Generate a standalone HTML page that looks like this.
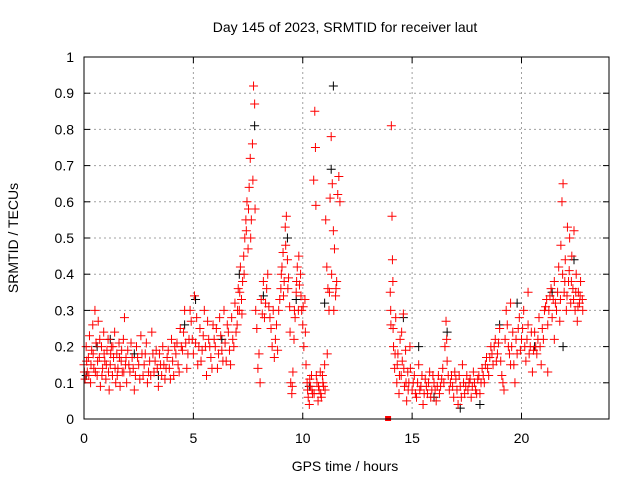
<!DOCTYPE html>
<html><head><meta charset="utf-8"><style>
body{margin:0;background:#fff;width:640px;height:480px;overflow:hidden}
text{font-family:"Liberation Sans",sans-serif;font-size:14px;fill:#000}
</style></head><body>
<svg id="chart" width="640" height="480" viewBox="0 0 640 480"></svg>
<script>
const xTicks=[0,5,10,15,20];
const yTicks=[0,0.1,0.2,0.3,0.4,0.5,0.6,0.7,0.8,0.9,1];
const yTickLabels=["0","0.1","0.2","0.3","0.4","0.5","0.6","0.7","0.8","0.9","1"];
const blackPts=[[0.1,0.12],[0.6,0.2],[1.2,0.22],[2.3,0.18],[3.4,0.12],[4.6,0.26],[5.1,0.33],[6.3,0.22],[7.1,0.4],[7.8,0.81],[8.2,0.34],[9.3,0.5],[9.7,0.33],[10.3,0.09],[11.0,0.32],[11.4,0.92],[11.3,0.69],[14.6,0.28],[15.3,0.2],[16.0,0.06],[16.6,0.24],[17.2,0.03],[17.6,0.1],[18.1,0.04],[19.0,0.26],[19.8,0.32],[20.6,0.2],[21.4,0.35],[21.9,0.2],[22.4,0.44]];
const redPts=[
[0.0,0.15],[0.05,0.11],[0.1,0.2],[0.15,0.13],[0.2,0.17],[0.25,0.23],[0.3,0.1],[0.35,0.19],[0.4,0.26],[0.45,0.14],[0.5,0.3],[0.55,0.21],[0.6,0.12],[0.65,0.27],[0.7,0.17],[0.75,0.09],[0.8,0.2],[0.85,0.14],[0.9,0.24],[0.95,0.16],[1.0,0.11],[1.05,0.19],[1.1,0.22],[1.15,0.08],[1.2,0.15],[1.25,0.2],[1.3,0.12],[1.35,0.17],[1.4,0.24],[1.45,0.1],[1.5,0.18],[1.55,0.14],[1.6,0.21],[1.65,0.09],[1.7,0.16],[1.75,0.13],[1.8,0.22],[1.85,0.28],[1.9,0.15],[1.95,0.1],[2.0,0.19],[2.1,0.13],[2.2,0.17],[2.3,0.08],[2.4,0.2],[2.5,0.15],[2.6,0.23],[2.7,0.12],[2.8,0.18],[2.9,0.1],[3.0,0.16],[3.1,0.24],[3.2,0.13],[3.3,0.19],[3.4,0.09],[3.5,0.15],[3.6,0.2],[3.7,0.11],[3.8,0.17],[3.9,0.14],[4.0,0.22],[4.1,0.12],[4.2,0.18],[4.3,0.15],[4.4,0.25],[4.5,0.19],[4.6,0.3],[4.7,0.14],[4.8,0.22],[4.9,0.27],[5.0,0.18],[5.05,0.34],[5.1,0.21],[5.2,0.15],[5.3,0.25],[5.4,0.19],[5.5,0.3],[5.6,0.12],[5.7,0.22],[5.8,0.17],[5.9,0.26],[6.0,0.2],[6.1,0.14],[6.2,0.28],[6.3,0.19],[6.4,0.3],[6.5,0.16],[6.6,0.24],[6.7,0.15],[6.8,0.22],[6.9,0.32],[7.0,0.26],[7.05,0.36],[7.1,0.3],[7.15,0.42],[7.2,0.33],[7.25,0.38],[7.3,0.45],[7.35,0.5],[7.4,0.55],[7.45,0.6],[7.5,0.47],[7.55,0.64],[7.6,0.72],[7.65,0.55],[7.7,0.76],[7.72,0.66],[7.75,0.92],[7.8,0.87],[7.82,0.58],[7.85,0.3],[7.9,0.25],[7.95,0.14],[8.0,0.18],[8.05,0.1],[8.1,0.33],[8.15,0.29],[8.2,0.38],[8.3,0.32],[8.4,0.4],[8.5,0.28],[8.6,0.2],[8.7,0.17],[8.8,0.26],[8.9,0.3],[9.0,0.36],[9.05,0.42],[9.1,0.46],[9.15,0.38],[9.2,0.53],[9.25,0.56],[9.3,0.44],[9.35,0.39],[9.4,0.31],[9.45,0.1],[9.5,0.07],[9.55,0.13],[9.6,0.22],[9.65,0.28],[9.7,0.35],[9.75,0.42],[9.8,0.3],[9.85,0.37],[9.9,0.4],[9.95,0.3],[10.0,0.26],[10.05,0.2],[10.1,0.33],[10.15,0.15],[10.2,0.1],[10.25,0.06],[10.3,0.04],[10.35,0.09],[10.4,0.12],[10.45,0.07],[10.5,0.66],[10.55,0.85],[10.58,0.75],[10.6,0.59],[10.65,0.1],[10.7,0.05],[10.75,0.08],[10.8,0.13],[10.85,0.06],[10.9,0.12],[10.95,0.09],[11.0,0.15],[11.05,0.55],[11.1,0.42],[11.15,0.36],[11.2,0.3],[11.25,0.61],[11.3,0.78],[11.35,0.65],[11.4,0.52],[11.45,0.47],[11.5,0.34],[11.55,0.38],[11.6,0.62],[11.65,0.67],[11.7,0.6],
[14.0,0.35],[14.03,0.26],[14.05,0.81],[14.08,0.56],[14.1,0.44],[14.12,0.38],[14.15,0.2],[14.2,0.14],[14.25,0.28],[14.3,0.1],[14.35,0.18],[14.4,0.07],[14.45,0.22],[14.5,0.12],[14.55,0.16],[14.6,0.29],[14.65,0.09],[14.7,0.19],[14.75,0.05],[14.8,0.13],[14.85,0.1],[14.9,0.2],[15.0,0.08],[15.1,0.12],[15.2,0.06],[15.3,0.15],[15.4,0.09],[15.5,0.04],[15.6,0.11],[15.7,0.07],[15.8,0.13],[15.9,0.08],[16.0,0.1],[16.1,0.05],[16.2,0.12],[16.3,0.09],[16.4,0.14],[16.5,0.2],[16.55,0.27],[16.6,0.16],[16.7,0.08],[16.8,0.12],[16.9,0.06],[17.0,0.11],[17.1,0.04],[17.2,0.09],[17.3,0.15],[17.4,0.07],[17.5,0.12],[17.6,0.1],[17.7,0.06],[17.8,0.13],[17.9,0.08],[18.0,0.11],[18.1,0.07],[18.2,0.14],[18.3,0.1],[18.4,0.17],[18.5,0.12],[18.6,0.2],[18.7,0.15],[18.8,0.22],[18.9,0.18],[19.0,0.25],[19.1,0.12],[19.2,0.08],[19.3,0.3],[19.4,0.2],[19.5,0.15],[19.6,0.24],[19.7,0.1],[19.8,0.18],[19.9,0.28],[20.0,0.22],[20.1,0.3],[20.2,0.16],[20.3,0.26],[20.4,0.2],[20.5,0.13],[20.6,0.24],[20.7,0.18],[20.8,0.28],[20.9,0.15],[21.0,0.22],[21.1,0.31],[21.2,0.26],[21.3,0.34],[21.4,0.28],[21.5,0.38],[21.6,0.3],[21.7,0.42],[21.75,0.27],[21.8,0.48],[21.85,0.6],[21.9,0.65],[21.95,0.35],[22.0,0.44],[22.05,0.3],[22.1,0.53],[22.15,0.38],[22.2,0.5],[22.25,0.32],[22.3,0.45],[22.35,0.36],[22.4,0.52],[22.45,0.3],[22.5,0.4],[22.55,0.27],[22.6,0.35],[22.65,0.32],[22.7,0.38],[22.8,0.3],[21.2,0.13],[21.5,0.22],[20.3,0.35],[19.5,0.32]
];
const redPts2=[
[0.02,0.13],[0.12,0.16],[0.22,0.12],[0.32,0.15],[0.42,0.18],[0.52,0.13],[0.62,0.16],[0.72,0.22],[0.82,0.12],[0.92,0.18],[1.02,0.15],[1.12,0.13],[1.22,0.18],[1.32,0.2],[1.42,0.14],[1.52,0.12],[1.62,0.17],[1.72,0.19],[1.82,0.13],[1.92,0.17],[2.05,0.15],[2.15,0.21],[2.25,0.14],[2.35,0.12],[2.45,0.17],[2.55,0.11],[2.65,0.18],[2.75,0.15],[2.85,0.21],[2.95,0.13],[3.05,0.12],[3.15,0.18],[3.25,0.16],[3.35,0.14],[3.45,0.18],[3.55,0.12],[3.65,0.15],[3.75,0.14],[3.85,0.19],[3.95,0.11],[4.05,0.16],[4.15,0.2],[4.25,0.21],[4.35,0.13],[4.45,0.2],[4.55,0.24],[4.65,0.21],[4.75,0.18],[4.85,0.3],[4.95,0.22],[5.15,0.28],[5.25,0.2],[5.35,0.16],[5.45,0.23],[5.55,0.2],[5.65,0.27],[5.75,0.2],[5.85,0.14],[5.95,0.22],[6.05,0.25],[6.15,0.18],[6.25,0.23],[6.35,0.16],[6.45,0.21],[6.55,0.26],[6.65,0.19],[6.75,0.28],[6.85,0.2],[6.95,0.24],[7.02,0.3],[7.12,0.35],[7.22,0.29],[7.32,0.4],[7.42,0.52],[7.52,0.58],[7.62,0.5],[8.25,0.28],[8.35,0.36],[8.45,0.31],[8.55,0.25],[8.65,0.3],[8.75,0.22],[8.85,0.19],[8.95,0.33],[9.02,0.4],[9.12,0.34],[9.22,0.48],[9.32,0.36],[9.42,0.24],[9.52,0.09],[9.62,0.3],[9.72,0.38],[9.82,0.45],[9.92,0.34],[10.02,0.31],[10.12,0.24],[10.22,0.08],[10.32,0.11],[10.42,0.08],[10.52,0.07],[10.62,0.12],[10.72,0.09],[10.82,0.07],[10.92,0.1],[11.02,0.08],[11.12,0.18],[11.22,0.35],[11.32,0.4],[11.42,0.3],[11.52,0.36],
[14.02,0.3],[14.13,0.25],[14.22,0.18],[14.32,0.15],[14.42,0.12],[14.52,0.24],[14.62,0.14],[14.72,0.1],[14.82,0.08],[14.92,0.14],[15.05,0.1],[15.15,0.07],[15.25,0.1],[15.35,0.08],[15.45,0.12],[15.55,0.07],[15.65,0.09],[15.75,0.1],[15.85,0.06],[15.95,0.12],[16.05,0.08],[16.15,0.09],[16.25,0.07],[16.35,0.11],[16.45,0.1],[16.58,0.22],[16.65,0.12],[16.75,0.1],[16.85,0.09],[16.95,0.13],[17.05,0.08],[17.15,0.12],[17.25,0.06],[17.35,0.1],[17.45,0.09],[17.55,0.08],[17.65,0.11],[17.75,0.09],[17.85,0.1],[17.95,0.07],[18.05,0.12],[18.15,0.1],[18.25,0.12],[18.35,0.15],[18.45,0.14],[18.55,0.17],[18.65,0.18],[18.75,0.2],[18.85,0.16],[18.95,0.21],[19.05,0.16],[19.15,0.1],[19.25,0.22],[19.35,0.26],[19.45,0.18],[19.55,0.2],[19.65,0.15],[19.75,0.22],[19.85,0.25],[19.95,0.19],[20.05,0.25],[20.15,0.2],[20.25,0.22],[20.35,0.18],[20.45,0.24],[20.55,0.19],[20.65,0.2],[20.75,0.22],[20.85,0.2],[20.95,0.25],[21.05,0.3],[21.15,0.33],[21.25,0.3],[21.35,0.36],[21.45,0.33],[21.55,0.32],[21.65,0.35],[21.78,0.33],[21.88,0.4],[21.98,0.38],[22.08,0.34],[22.18,0.41],[22.28,0.38],[22.38,0.33],[22.48,0.35],[22.58,0.31],[22.68,0.34],[22.78,0.33]
];
const L=84,R=609,T=57,B=419,XMAX=24;
const sx=v=>L+(v/XMAX)*(R-L), sy=v=>B-v*(B-T);
const svg=document.getElementById('chart'),NS='http://www.w3.org/2000/svg';
function mk(tag,attrs,parent){const e=document.createElementNS(NS,tag);for(const k in attrs)e.setAttribute(k,attrs[k]);(parent||svg).appendChild(e);return e;}
const grid=mk('g',{});


yTicks.forEach((v,i)=>{
 if(v>0&&v<1){mk('line',{x1:L,x2:R,y1:sy(v),y2:sy(v),stroke:'#a0a0a0','stroke-dasharray':'2,3'},grid);}
 mk('line',{x1:L,x2:L+6,y1:sy(v),y2:sy(v),stroke:'#000'});
 mk('line',{x1:R,x2:R-6,y1:sy(v),y2:sy(v),stroke:'#000'});
 const t=mk('text',{x:L-10,y:sy(v)+5,'text-anchor':'end'});t.textContent=yTickLabels[i];
 
 
});
xTicks.forEach(v=>{
 if(v>0)mk('line',{x1:sx(v),x2:sx(v),y1:T,y2:B,stroke:'#a0a0a0','stroke-dasharray':'2,3'},grid);
 mk('line',{x1:sx(v),x2:sx(v),y1:B,y2:B-6,stroke:'#000'});
 mk('line',{x1:sx(v),x2:sx(v),y1:T,y2:T+6,stroke:'#000'});
 const t=mk('text',{x:sx(v),y:B+24,'text-anchor':'middle'});t.textContent=String(v);
 
 
});
function plus(p,col,g){const x=sx(p[0]),y=sy(p[1]);
 mk('path',{d:`M${x-4.5},${y}H${x+4.5}M${x},${y-4.5}V${y+4.5}`,stroke:col,'stroke-width':1,fill:'none'},g);}
const gb=mk('g',{});


blackPts.forEach(p=>plus(p,'#000',gb));
const gr=mk('g',{});


redPts.forEach(p=>plus(p,'#f00',gr));
redPts2.forEach(p=>plus(p,'#f00',gr));
const sq=mk('rect',{x:sx(13.9)-3,y:sy(0)-3,width:6,height:5,fill:'#f00'});


const fr=mk('rect',{x:L,y:T,width:R-L,height:B-T,fill:'none',stroke:'#000'});


const ti=mk('text',{x:345,y:32,'text-anchor':'middle'});ti.textContent='Day 145 of 2023, SRMTID for receiver laut';


const xl=mk('text',{x:345,y:471,'text-anchor':'middle'});xl.textContent='GPS time / hours';


const yl=mk('text',{x:18,y:238,'text-anchor':'middle',transform:'rotate(-90 18 238)'});yl.textContent='SRMTID / TECUs';


</script>
</body></html>
